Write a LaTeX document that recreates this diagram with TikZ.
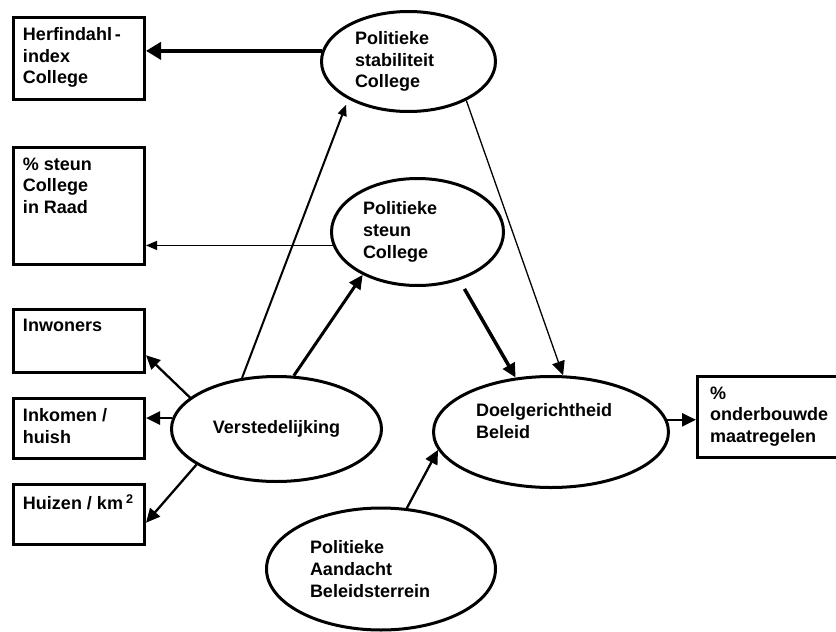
\documentclass[tikz,border=0pt]{standalone}
\usepackage{fontspec}
\setmainfont{Liberation Sans}
\usetikzlibrary{shapes.geometric,arrows.meta}

\newcommand{\vakje}[3][112pt]{\parbox[c][#2pt][t]{#1}{#3}}

\begin{document}
\begin{tikzpicture}[x=1pt,y=-1pt,
    every node/.style={font=\bfseries\fontsize{18}{21.7}\selectfont},
    vak/.style={draw,line width=3pt,rectangle,anchor=north west,inner xsep=9.5pt,inner ysep=10pt,minimum width=131pt},
    bol/.style={draw,line width=3pt,ellipse,inner sep=0pt,align=left},
    pijl/.style={-{Triangle[length=14pt,width=13pt]},line width=#1},
    pijltje/.style={-{Triangle[length=11pt,width=9pt]},line width=#1}]
    \useasboundingbox (0,0) rectangle (836,632);
    % meetvariabelen links
    \node[vak] (herf) at (12,16) {\vakje{62}{Herfindahl\,-\\index\\College}};
    \node[vak] (steunpct) at (12,146) {\vakje{97}{\%~steun\\College\\in Raad}};
    \node[vak] (inw) at (12,308) {\vakje{43}{Inwoners}};
    \node[vak] (ink) at (12,397) {\vakje{40}{Inkomen /\\huish}};
    \node[vak] (huiz) at (12,483) {\vakje{40}{Huizen / km\,\textsuperscript{2}}};
    \node[vak,inner xsep=12.5pt] (onder) at (696,375) {\vakje[145pt]{61}{\%\\onderbouwde\\maatregelen}};
    % latente variabelen
    \node[bol,minimum width=174pt,minimum height=100pt,text width=107pt] (stab) at (408.5,61.5) {Politieke\\stabiliteit\\College};
    \node[bol,minimum width=172pt,minimum height=107pt,text width=109pt] (steun) at (417.5,232) {Politieke\\steun\\College};
    \node[bol,minimum width=210pt,minimum height=105pt] (verst) at (276.5,429) {Verstedelijking};
    \node[bol,minimum width=235pt,minimum height=111pt,text width=150pt] (doel) at (551,432) {Doelgerichtheid\\Beleid\\~};
    \node[bol,minimum width=229pt,minimum height=122pt,text width=142pt] (aand) at (381,569) {Politieke\\Aandacht\\Beleidsterrein};
    % pijlen
    \draw[line width=4.5pt,-{Triangle[length=15pt,width=17pt]}] (stab.173) -- (herf.east |- stab.173);
    \draw[pijltje=1.2pt] (steun.189) -- (steunpct.east |- steun.189);
    \draw[pijl=2.3pt] (verst.160) -- (inw.348);
    \draw[pijl=2.5pt] (verst.174) -- (ink.east |- verst.174);
    \draw[pijl=2.3pt] (verst.204) -- (huiz.353);
    \draw[pijltje=2pt,shorten >=6pt] (verst.124) -- (stab.212);
    \draw[pijl=3pt] (verst.72) -- (steun.218);
    \draw[pijl=1.3pt] (stab.326) -- (doel.78);
    \draw[pijl=3.5pt,shorten <=10pt] (steun.311) -- (doel.123);
    \draw[pijl=2.3pt] (aand.67) -- (doel.189);
    \draw[pijl=2.5pt] (doel.6) -- (onder.west |- doel.6);
\end{tikzpicture}
\end{document}
